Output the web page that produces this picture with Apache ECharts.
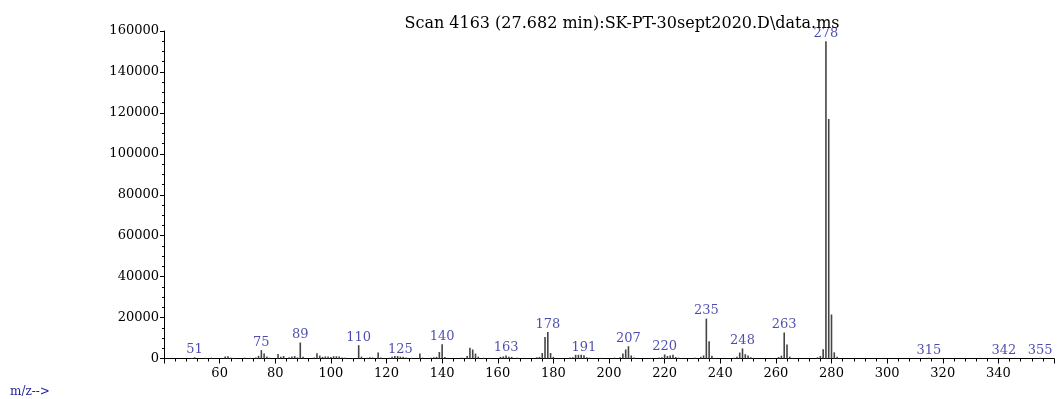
<!DOCTYPE html>
<html>
<head>
<meta charset="utf-8">
<script src="https://cdn.jsdelivr.net/npm/echarts@6/dist/echarts.min.js"></script>
<style>
html,body{margin:0;padding:0;background:#fff;}
#chart{width:1060px;height:399px;}
</style>
</head>
<body>
<div id="chart"></div>
<script>
const titleText = 'Scan 4163 (27.682 min):SK-PT-30sept2020.D\\data.ms';
const xAxisTitle = 'm/z-->';
const mz = [50,51,55,57,62,63,64,65,69,71,73,74,75,76,77,78,81,82,83,85,86,87,88,89,90,94,95,96,97,98,99,100,101,102,103,104,105,108,110,111,113,114,115,117,118,121,122,123,124,125,126,127,129,132,133,136,137,138,139,140,141,147,149,150,151,152,153,155,157,161,162,163,164,165,167,174,175,176,177,178,179,180,186,187,188,189,190,191,192,193,197,202,204,205,206,207,208,209,215,218,219,220,221,222,223,224,225,231,233,234,235,236,237,238,245,246,247,248,249,250,251,252,259,261,262,263,264,265,266,275,276,277,278,279,280,281,282,315,342,355];
const intensity = [300,600,300,400,1000,1100,400,300,400,300,500,1300,4100,2500,1000,400,2200,800,1200,600,1000,1200,500,7800,800,500,2600,1400,800,1000,1000,700,1100,1100,1000,500,400,300,6500,900,400,600,500,2900,500,400,800,1200,1200,900,800,500,300,2400,400,400,600,800,3200,7000,700,400,1200,5200,4400,2400,900,400,300,800,1000,1500,900,800,400,600,800,2700,10500,13000,2700,800,500,600,1800,1800,1800,1600,600,400,300,400,600,2400,4400,6000,1500,500,300,500,600,2000,1200,1500,1800,700,400,400,800,1500,19500,8400,1300,300,400,900,2900,4900,2100,1500,600,300,300,700,1400,12700,6800,900,300,600,1200,4500,155000,117000,21500,3000,800,400,400,400];
const labeledMz = [51,75,89,110,125,140,163,178,191,207,220,235,248,263,278,315,342,355];
const xMin = 40, xMax = 360, xStep = 20;
const yMin = 0, yMax = 160000, yStep = 20000;

const peaks = mz.map((m, i) => [m, intensity[i]]);
const labelPts = labeledMz.map(m => [m, intensity[mz.indexOf(m)]]);

const FONT = 'DejaVu Serif';
const BLUE = '#1f1f9a';
const chart = echarts.init(document.getElementById('chart'));
chart.setOption({
  animation: false,
  backgroundColor: '#fff',
  title: {
    text: titleText,
    left: 617, top: 11, textAlign: 'center',
    textStyle: {fontFamily: FONT, fontSize: 16, fontWeight: 'normal', color: '#000'}
  },
  graphic: [{
    type: 'text', left: 10, top: 386,
    style: {text: xAxisTitle, fontFamily: FONT, fontSize: 12, fill: BLUE}
  }],
  grid: {left: 164, right: 6, top: 31, bottom: 40.5},
  xAxis: {
    type: 'value', min: xMin, max: xMax, interval: xStep,
    axisLine: {show: true, onZero: false, lineStyle: {color: '#000', width: 1}},
    axisTick: {show: true, length: 5, lineStyle: {color: '#000'}},
    minorTick: {show: true, splitNumber: 5, length: 3, lineStyle: {color: '#000'}},
    splitLine: {show: false},
    axisLabel: {
      margin: 9, color: '#000', fontFamily: FONT, fontSize: 13,
      formatter: v => (v === xMin || v === xMax) ? '' : String(v)
    }
  },
  yAxis: {
    type: 'value', min: yMin, max: yMax, interval: yStep,
    axisLine: {show: true, lineStyle: {color: '#000', width: 1}},
    axisTick: {show: true, length: 4, lineStyle: {color: '#000'}},
    minorTick: {show: true, splitNumber: 4, length: 2, lineStyle: {color: '#000'}},
    splitLine: {show: false},
    axisLabel: {margin: 5, color: '#000', fontFamily: FONT, fontSize: 13, formatter: v => String(v)}
  },
  series: [{
    type: 'bar', data: peaks, barWidth: 1.6, silent: true,
    itemStyle: {color: '#444'}
  }, {
    type: 'scatter', data: labelPts, symbolSize: 0, silent: true,
    label: {
      show: true, position: 'top', distance: 1,
      formatter: p => String(p.value[0]),
      color: BLUE, fontFamily: FONT, fontSize: 13
    }
  }]
});
</script>
</body>
</html>
